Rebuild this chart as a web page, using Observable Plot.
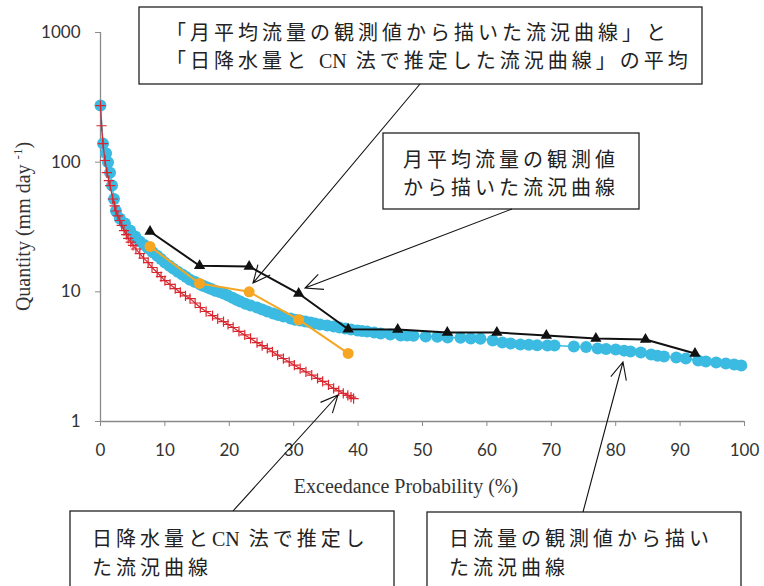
<!DOCTYPE html>
<html><head><meta charset="utf-8">
<script src="https://cdn.jsdelivr.net/npm/d3@7"></script>
<script src="https://cdn.jsdelivr.net/npm/@observablehq/plot@0.6"></script>
<style>
body{margin:0;background:#fff;}
#chart{position:relative;width:764px;height:586px;overflow:hidden;}
</style></head><body><div id="chart"></div>
<script>
// Daily observed flow-duration curve (blue)
const dailyObsX = [0,0.39,0.86,1.17,1.48,1.79,2.10,2.4,3.0,3.8,4.6,5.4,6.1,6.8,7.4,8.1,8.8,9.4,10.0,10.7,11.3,12.0,12.7,13.3,13.9,14.7,15.5,16.0,16.6,17.2,17.8,18.5,19.1,19.8,20.5,21.1,21.7,22.5,23.3,24.3,25.1,25.9,26.8,27.6,28.4,29.5,30.2,31.0,31.8,32.6,33.3,34.1,35.2,36.2,37.1,38.0,38.9,39.9,40.6,41.4,42.5,43.5,45.0,46.6,47.6,48.6,50.5,52.3,53.9,55.9,57.5,59.0,60.9,62.4,63.7,65.2,66.5,67.8,69.4,70.5,73.5,75.4,77.2,78.5,80.0,81.3,82.3,83.9,85.5,86.5,87.5,89.4,90.9,92.8,94.0,95.6,97.1,98.4,99.5];
const dailyObsY = [273,139,117,100,83,66,52,42,36.7,33.6,29.7,26.7,24.4,23.0,21.6,20.2,19.0,17.9,16.8,15.9,15.1,14.3,13.6,13.0,12.4,11.9,11.4,11.1,10.8,10.5,10.2,9.95,9.7,9.35,9.0,8.7,8.42,8.1,7.84,7.57,7.3,7.05,6.8,6.62,6.45,6.22,6.1,6.01,5.9,5.8,5.7,5.6,5.5,5.4,5.3,5.21,5.12,5.03,4.98,4.94,4.85,4.77,4.69,4.60,4.60,4.58,4.52,4.50,4.44,4.42,4.37,4.34,4.21,4.06,3.99,3.92,3.90,3.88,3.86,3.85,3.79,3.76,3.65,3.63,3.59,3.52,3.47,3.41,3.29,3.22,3.17,3.11,3.06,2.95,2.90,2.85,2.80,2.75,2.70];

// Daily rainfall + CN method estimated curve (red)
const cnX = [0,0.16,0.39,0.70,1.0,1.3,1.5,1.9,2.2,2.4,2.7,3.0,3.3,3.65,4.0,4.3,4.7,5.05,5.5,6.1,6.7,7.4,8.0,8.8,9.4,10.0,10.8,11.6,12.4,13.2,13.9,14.7,15.5,16.4,17.4,18.2,19.1,19.8,20.6,21.5,22.4,23.3,24.3,25.1,25.9,26.7,27.5,28.4,29.3,30.1,31.0,31.9,32.8,33.7,34.5,35.4,36.2,37.0,37.7,38.4,38.9,39.3];
const cnY = [273,191,139,103,83,72,66,52,46,42,38.5,35.5,32.5,29.7,27.6,25.8,24.2,22.8,21.4,19.7,18.2,16.8,15.4,14.1,13.1,12.2,11.4,10.6,9.9,9.3,8.87,8.2,7.57,7.05,6.56,6.2,5.9,5.6,5.31,4.95,4.65,4.37,4.06,3.85,3.66,3.45,3.25,3.06,2.88,2.72,2.56,2.41,2.28,2.15,2.04,1.92,1.80,1.72,1.65,1.59,1.54,1.50];

// Monthly observed curve (orange)
const monthlyX = [7.69,15.38,23.08,30.77,38.46];
const monthlyY = [22.4,11.6,10.0,6.1,3.35];

// Average curve (black)
const avgX = [7.69,15.38,23.08,30.77,38.46,46.15,53.85,61.54,69.23,76.92,84.62,92.31];
const avgY = [29.2,15.9,15.7,9.7,5.15,5.12,4.86,4.86,4.60,4.37,4.29,3.35];

const xTicks = [0,10,20,30,40,50,60,70,80,90,100];
const yTicks = [1,10,100,1000];
const xTitle = "Exceedance Probability (%)";
const yTitleMain = "Quantity (mm day ";
const yTitleSup = "-1";

const notes = [
  {lines:["「月平均流量の観測値から描いた流況曲線」と","「日降水量と CN 法で推定した流況曲線」の平均"]},
  {lines:["月平均流量の観測値","から描いた流況曲線"]},
  {lines:["日降水量とCN 法で推定し","た流況曲線"]},
  {lines:["日流量の観測値から描い","た流況曲線"]}
];
// annotation layout (pixels)
const noteLayout = [
  {box:[139,7,702,84], tx:166, ty:[33,61], from:[420,84], to:[253,283]},
  {box:[383,133,639,209], tx:403, ty:[160,188], from:[512,209], to:[305,288]},
  {box:[70,511,394,600], tx:92, ty:[539,568], from:[233,511], to:[338,395]},
  {box:[427,512,741,600], tx:449, ty:[539,568], from:[583,512], to:[623,362]}
];

const BLUE = "#3bbae2", RED = "#d9262e", ORANGE = "#f6a623", BLACK = "#111";
const rows = (xs, ys) => xs.map((x, i) => ({x, y: ys[i]}));
const blue = rows(dailyObsX, dailyObsY);
const red = rows(cnX, cnY);
const orange = rows(monthlyX, monthlyY);
const black = rows(avgX, avgY);

const plot = Plot.plot({
  width: 764, height: 586,
  marginLeft: 100, marginRight: 20, marginTop: 32, marginBottom: 165,
  style: {background: "white", overflow: "visible", fontFamily: "Lato, sans-serif"},
  x: {domain: [0, 100]},
  y: {type: "log", domain: [1, 1000]},
  marks: [
    Plot.axisX({ticks: xTicks, tickSize: 5, tickPadding: 17, fontSize: 17, tickFormat: d => String(d), label: null}),
    Plot.axisY({ticks: yTicks, tickSize: 5, tickPadding: 15, fontSize: 17, tickFormat: d => String(d), label: null}),
    Plot.ruleX([0], {stroke: "#8a8a8a", strokeWidth: 1.3}),
    Plot.ruleY([1], {stroke: "#8a8a8a", strokeWidth: 1.3}),
    Plot.line(blue, {x: "x", y: "y", stroke: BLUE, strokeWidth: 1.5}),
    Plot.dot(blue, {x: "x", y: "y", r: 6, fill: BLUE}),
    Plot.line(red, {x: "x", y: "y", stroke: RED, strokeWidth: 1.2}),
    Plot.dot(red, {x: "x", y: "y", r: 3.4, symbol: "plus", stroke: RED, strokeWidth: 1.2}),
    Plot.line(orange, {x: "x", y: "y", stroke: ORANGE, strokeWidth: 2}),
    Plot.dot(orange, {x: "x", y: "y", r: 5.5, fill: ORANGE}),
    Plot.line(black, {x: "x", y: "y", stroke: BLACK, strokeWidth: 2}),
    Plot.dot(black, {x: "x", y: "y", r: 4.2, symbol: "triangle", fill: BLACK})
  ]
});

const svg = d3.select(plot);
svg.selectAll('g[aria-label="x-axis tick"], g[aria-label="y-axis tick"]').attr("stroke", "#8a8a8a");
svg.selectAll('g[aria-label="x-axis tick label"], g[aria-label="y-axis tick label"]').attr("fill", "#333").attr("font-size", 17);

// axis titles
svg.append("text").attr("x", 406).attr("y", 486).attr("dy", "0.35em")
  .attr("text-anchor", "middle").attr("font-family", "'Liberation Serif', serif")
  .attr("font-size", 20).attr("fill", "#333").text(xTitle);
const yt = svg.append("text").attr("transform", "translate(23,226.5) rotate(-90)")
  .attr("dy", "0.35em").attr("text-anchor", "middle")
  .attr("font-family", "'Liberation Serif', serif").attr("font-size", 20).attr("fill", "#333");
yt.append("tspan").text(yTitleMain);
yt.append("tspan").attr("font-size", 13).attr("dy", "-0.6em").text(yTitleSup);
yt.append("tspan").attr("dy", "0.39em").text(")");

// annotations
const ann = svg.append("g").attr("class", "annotations");
noteLayout.forEach((L, i) => {
  const [x0, y0, x1, y1] = L.box;
  ann.append("rect").attr("x", x0).attr("y", y0).attr("width", x1 - x0).attr("height", y1 - y0)
    .attr("fill", "white").attr("stroke", "#222").attr("stroke-width", 1.3);
  notes[i].lines.forEach((t, j) => {
    const txt = ann.append("text").attr("x", L.tx).attr("y", L.ty[j]).attr("dy", "0.36em")
      .attr("text-anchor", "start")
      .attr("font-family", "'Liberation Serif', 'Noto Sans CJK JP', serif")
      .attr("font-size", 20).attr("fill", "#222");
    t.split(/(CN)/).filter(s => s.length).forEach(seg => {
      txt.append("tspan").attr("letter-spacing", seg === "CN" ? "0px" : "4px").text(seg);
    });
  });
});
noteLayout.forEach(L => {
  const [fx, fy] = L.from, [tx, ty] = L.to;
  const a = Math.atan2(fy - ty, fx - tx), len = 19, h = 25 * Math.PI / 180;
  const p1 = [tx + len * Math.cos(a + h), ty + len * Math.sin(a + h)];
  const p2 = [tx + len * Math.cos(a - h), ty + len * Math.sin(a - h)];
  ann.append("path")
    .attr("d", `M${fx},${fy}L${tx},${ty}M${p1[0]},${p1[1]}L${tx},${ty}L${p2[0]},${p2[1]}`)
    .attr("fill", "none").attr("stroke", "#111").attr("stroke-width", 1.1);
});

document.getElementById("chart").appendChild(plot);
</script></body></html>
